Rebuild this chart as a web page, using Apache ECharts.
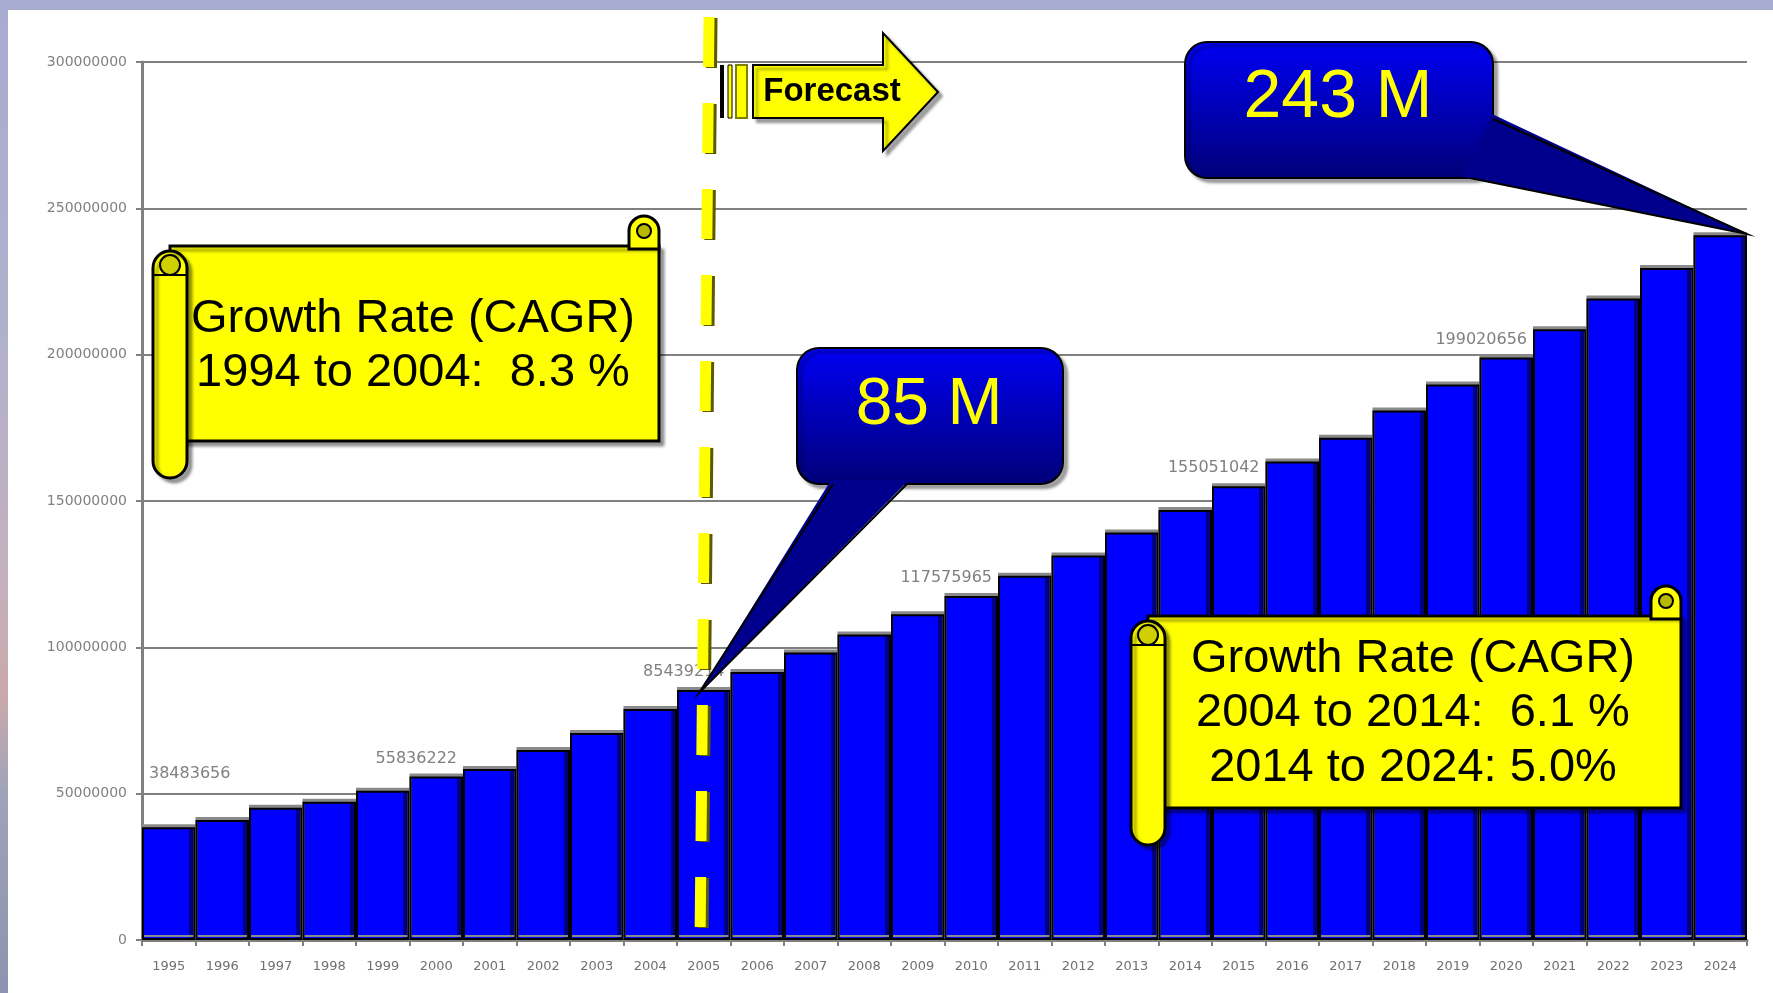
<!DOCTYPE html>
<html>
<head>
<meta charset="utf-8">
<script src="https://cdn.jsdelivr.net/npm/echarts@6.0.0/dist/echarts.min.js"></script>
<style>
html, body { margin:0; padding:0; width:1773px; height:993px; overflow:hidden;
  background: linear-gradient(to bottom, #a8acd0 0%, #b2b1cc 35%, #c4b0bd 58%, #c9a9ab 70%, #9ea3b9 80%, #8d93ae 100%); }
#chart { position:absolute; left:8px; top:10px; width:1765px; height:983px; background:#fff; }
</style>
</head>
<body>
<div id="chart"></div>
<script>
// data
var years = ['1995','1996','1997','1998','1999','2000','2001','2002','2003','2004',
             '2005','2006','2007','2008','2009','2010','2011','2012','2013','2014',
             '2015','2016','2017','2018','2019','2020','2021','2022','2023','2024'];
var population = [38483656, 41000000, 45200000, 47200000, 51000000, 55836222, 58400000, 64900000, 70700000, 78900000,
                  85439214, 91600000, 98200000, 104400000, 111300000, 117575965, 124500000, 131400000, 139200000, 146900000,
                  155051042, 163500000, 171600000, 180900000, 189800000, 199020656, 208700000, 219200000, 229600000, 240800000];
var labelledYears = ['1995', '2000', '2005', '2010', '2015', '2020'];
var yTicks = [0, 50000000, 100000000, 150000000, 200000000, 250000000, 300000000];

var chart = echarts.init(document.getElementById('chart'));

var barData = population.map(function (v, i) {
  if (labelledYears.indexOf(years[i]) < 0) return v;
  var lab = {
    show: true,
    position: ['100%', -18],
    align: 'right',
    verticalAlign: 'middle',
    offset: [-6, 0],
    color: '#808080',
    fontSize: 16,
    fontFamily: 'DejaVu Sans',
    formatter: function (p) { return String(p.value); }
  };
  if (i === 0) { lab.position = [7, -54]; lab.align = 'left'; lab.offset = [0, 0]; }
  return { value: v, label: lab };
});

var FONT = '"Liberation Sans", Arial, sans-serif';
var shadow = { shadowBlur: 3, shadowColor: 'rgba(0,0,0,0.35)', shadowOffsetX: 4, shadowOffsetY: 4 };

function txt(s, x, y, font, color) {
  return { type: 'text', z: 110, style: { text: s, x: x, y: y, font: font, fill: color,
    align: 'center', verticalAlign: 'middle', textAlign: 'center', textVerticalAlign: 'middle' } };
}

function scroll(x, y, w, h, lines, cx, ys) {
  var els = [];
  els.push({ type: 'rect', z: 100, shape: { x: x, y: y, width: w, height: h },
    style: Object.assign({ fill: '#ffff00', stroke: '#000', lineWidth: 3 }, shadow) });
  // top right curl
  els.push({ type: 'rect', z: 101, shape: { x: x + w - 30, y: y - 30, width: 30, height: 33, r: [15, 15, 0, 0] },
    style: { fill: '#ffff00', stroke: '#000', lineWidth: 3 } });
  els.push({ type: 'circle', z: 102, shape: { cx: x + w - 15, cy: y - 15, r: 7 },
    style: { fill: '#b8b800', stroke: '#000', lineWidth: 2 } });
  // left roll
  els.push({ type: 'rect', z: 101, shape: { x: x - 17, y: y + 5, width: 34, height: h + 32, r: 17 },
    style: Object.assign({ fill: '#ffff00', stroke: '#000', lineWidth: 3 }, shadow) });
  els.push({ type: 'circle', z: 102, shape: { cx: x, cy: y + 19, r: 10 },
    style: { fill: '#d0d000', stroke: '#000', lineWidth: 2 } });
  els.push({ type: 'line', z: 102, shape: { x1: x - 16, y1: y + 29, x2: x + 16, y2: y + 29 },
    style: { stroke: '#000', lineWidth: 2 } });
  lines.forEach(function (s, i) {
    els.push(txt(s, cx, ys[i], 'normal 47px ' + FONT, '#000'));
  });
  return els;
}

function callout(x, y, w, h, poly, edge, label, tx, ty, size) {
  return [
    { type: 'rect', z: 100, shape: { x: x, y: y, width: w, height: h, r: 22 },
      style: Object.assign({ stroke: '#000', lineWidth: 2,
        fill: { type: 'linear', x: 0, y: 0, x2: 0, y2: 1,
          colorStops: [{ offset: 0, color: '#0000f4' }, { offset: 1, color: '#000078' }] } }, shadow) },
    { type: 'polygon', z: 101, shape: { points: poly }, style: { fill: '#00008c' } },
    { type: 'polyline', z: 102, shape: { points: edge }, style: { stroke: '#000', lineWidth: 2, fill: null } },
    txt(label, tx, ty, 'normal ' + size + 'px ' + FONT, '#ffff00')
  ];
}

var graphics = [];
// forecast boundary line
graphics.push({ type: 'line', z: 90, shape: { x1: 701, y1: 7, x2: 692, y2: 935 },
  style: { stroke: '#ffff00', lineWidth: 11, lineDash: [50, 36],
    shadowColor: '#5a5a00', shadowOffsetX: 3, shadowOffsetY: 1, shadowBlur: 0 } });
// forecast arrow
graphics.push({ type: 'rect', z: 100, shape: { x: 712, y: 55, width: 4, height: 53 }, style: { fill: '#000' } });
graphics.push({ type: 'rect', z: 100, shape: { x: 720, y: 55, width: 4, height: 53 }, style: { fill: '#ffff00', stroke: '#000', lineWidth: 1 } });
graphics.push({ type: 'rect', z: 100, shape: { x: 728, y: 55, width: 11, height: 53 }, style: { fill: '#ffff00', stroke: '#808000', lineWidth: 2 } });
graphics.push({ type: 'polygon', z: 100,
  shape: { points: [[745, 55], [875, 55], [875, 23], [930, 82], [875, 141], [875, 108], [745, 108]] },
  style: Object.assign({ fill: '#ffff00', stroke: '#000', lineWidth: 2 }, shadow) });
graphics.push(txt('Forecast', 824, 82, 'bold 33px ' + FONT, '#000'));

graphics = graphics.concat(scroll(162, 236, 489, 195,
  ['Growth Rate (CAGR)', '1994 to 2004:  8.3 %'], 405, [309, 363]));
graphics = graphics.concat(scroll(1140, 606, 533, 192,
  ['Growth Rate (CAGR)', '2004 to 2014:  6.1 %', '2014 to 2024: 5.0%'], 1405, [649, 703, 758]));

graphics = graphics.concat(callout(789, 338, 266, 136,
  [[823, 470], [901, 470], [691, 683]], [[825, 474], [691, 683], [899, 474]],
  '85 M', 921, 396, 66));
graphics = graphics.concat(callout(1177, 32, 308, 136,
  [[1484, 104], [1739, 224], [1455, 167]], [[1485, 109], [1739, 224], [1462, 168]],
  '243 M', 1330, 88, 68));

var option = {
  animation: false,
  backgroundColor: '#ffffff',
  grid: { left: 134, right: 26, top: 52, bottom: 53 },
  xAxis: {
    type: 'category',
    data: years,
    axisLine: { lineStyle: { color: '#808080', width: 3 } },
    axisTick: { show: true, length: 6, lineStyle: { color: '#808080', width: 2 } },
    axisLabel: { color: '#707070', fontSize: 13, fontFamily: 'DejaVu Sans', margin: 20, interval: 0 }
  },
  yAxis: {
    type: 'value',
    min: yTicks[0],
    max: yTicks[yTicks.length - 1],
    interval: yTicks[1] - yTicks[0],
    axisLine: { show: true, lineStyle: { color: '#808080', width: 3 } },
    axisTick: { show: true, length: 6, lineStyle: { color: '#808080', width: 2 } },
    axisLabel: { color: '#808080', fontSize: 14, fontFamily: 'DejaVu Sans', margin: 15,
      formatter: function (v) { return String(v); } },
    splitLine: { lineStyle: { color: '#808080', width: 2 } }
  },
  series: [{
    type: 'bar',
    data: barData,
    barCategoryGap: '0%',
    itemStyle: {
      color: { type: 'linear', x: 0, y: 0, x2: 1, y2: 0,
        colorStops: [{ offset: 0, color: '#0000ff' }, { offset: 0.88, color: '#0000ff' },
                     { offset: 0.88, color: '#000080' }, { offset: 1, color: '#000080' }] },
      borderColor: '#000000',
      borderWidth: 2,
      shadowColor: '#8a8a8a',
      shadowOffsetY: -3,
      shadowBlur: 0
    }
  }],
  graphic: { elements: graphics }
};

chart.setOption(option);
</script>
</body>
</html>
